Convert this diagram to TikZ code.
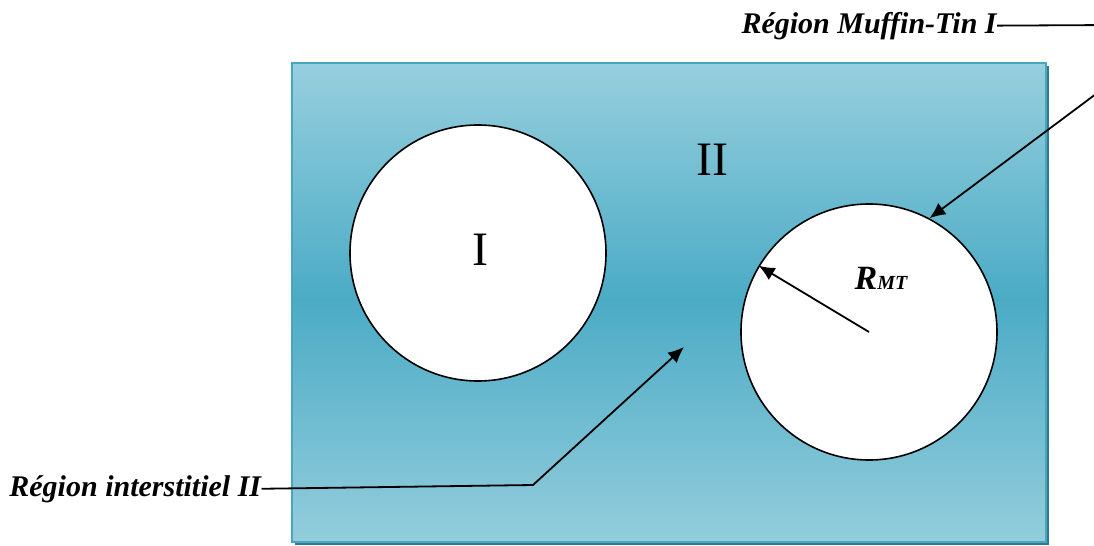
\documentclass[tikz,border=0pt]{standalone}
\usepackage{fontspec}
\setmainfont{Liberation Serif}
\usetikzlibrary{arrows.meta}
\definecolor{tealtop}{HTML}{97CFDE}
\definecolor{tealmid}{HTML}{4BABC5}
\definecolor{tealbot}{HTML}{94CDDC}
\definecolor{tealedge}{HTML}{4AA6BF}
\definecolor{tealshadow}{HTML}{2E7C92}
\tikzset{
  sphere/.style={circle,draw,fill=white,line width=0.8pt,minimum size=128pt,inner sep=0pt},
  lbl/.style={font=\fontsize{15}{18}\selectfont\bfseries\itshape,inner sep=0pt},
  roman/.style={font=\fontsize{24}{28}\selectfont},
  arr/.style={line width=0.9pt,-{Latex[length=8pt,width=7pt]}},
}
\begin{document}
\begin{tikzpicture}[x=0.5pt,y=-0.5pt]
\useasboundingbox (0,0) rectangle (1094,546);
% interstitial box with shadow
\fill[tealshadow] (295,66) rectangle (1049,545);
\shade[top color=tealtop,bottom color=tealmid] (292,63) rectangle (1046,300);
\shade[top color=tealmid,bottom color=tealbot] (292,299) rectangle (1046,542);
\draw[tealedge,line width=1pt] (292,63) rectangle (1046,542);
% muffin-tin spheres
\node[sphere] (lc) at (478,253) {};
\node[sphere] (mtc) at (869,332) {};
\node[roman] (one) at (480,250) {I};
\node[roman] (two) at (712,160) {II};
\node[font=\bfseries\itshape] (rmt) at (881,278)
  {{\fontsize{17}{20}\selectfont R}{\fontsize{10}{12}\selectfont MT}};
% labels
\node[lbl,anchor=base east] (mt) at (997,33) {Région Muffin-Tin I};
\node[lbl,anchor=base west] (it) at (9,496) {Région interstitiel II};
\coordinate (mtbend) at (1112,25);
\coordinate (mtturn) at (1112,82);
\coordinate (itbend) at (533,485);
\coordinate (itend) at (684,347);
\draw[arr] (mt.east) -- (mtbend) -- (mtturn) -- (mtc.62);
\draw[arr] (mtc.center) -- (mtc.149);
\draw[arr] (it.east) -- (itbend) -- (itend);
\end{tikzpicture}
\end{document}
